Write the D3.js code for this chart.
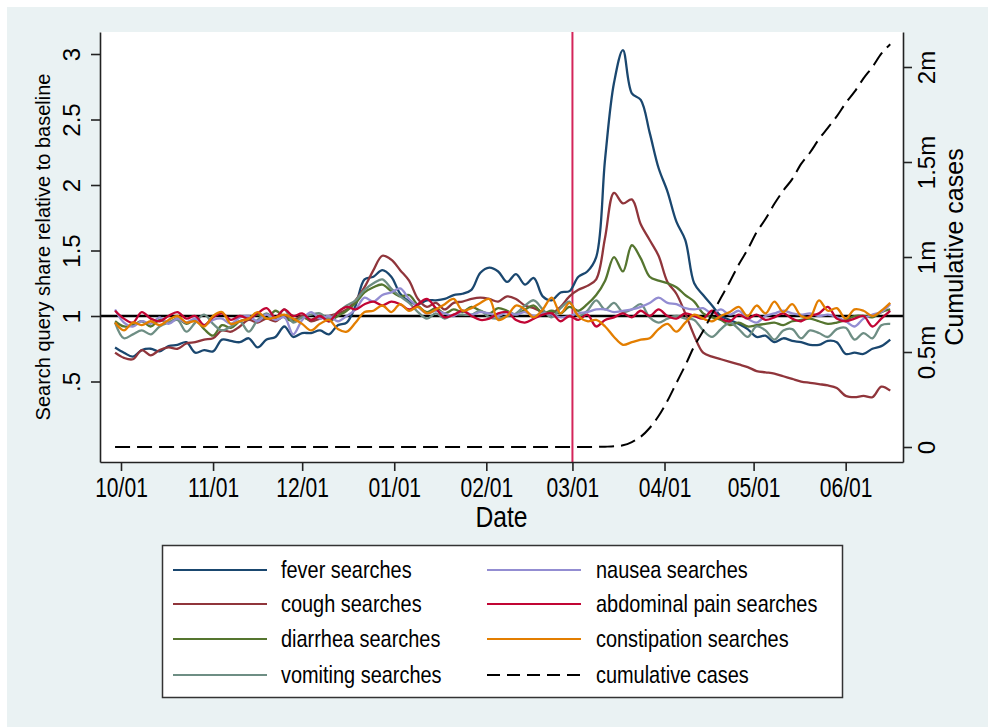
<!DOCTYPE html>
<html><head><meta charset="utf-8">
<script src="https://cdn.jsdelivr.net/npm/d3@7"></script>
<style>
body{margin:0;background:#fff;}
svg{display:block;font-family:"Liberation Sans",Arial,Helvetica,sans-serif;}
</style>
</head><body>
<svg id="c" width="988" height="727"></svg>
<script>
// ---------------- DATA (sampled every 3 days from 2019-09-29) ----------------
const startDate = "2019-09-29";
const stepDays = 3;

const fever = [0.76,0.72,0.69,0.74,0.75,0.73,0.77,0.78,0.80,0.72,0.74,0.73,0.82,0.81,0.80,0.83,0.76,0.82,0.84,0.92,
0.84,0.87,0.87,0.89,0.86,0.93,0.95,1.08,1.28,1.30,1.35,1.30,1.17,1.11,1.09,1.12,1.12,1.13,1.16,1.17,
1.20,1.33,1.37,1.34,1.26,1.32,1.24,1.29,1.15,1.12,1.18,1.19,1.30,1.34,1.45,2.20,2.78,3.03,2.70,2.65,
2.40,2.13,1.95,1.72,1.58,1.25,1.16,1.08,1.00,0.97,0.94,0.90,0.84,0.85,0.80,0.83,0.81,0.80,0.78,0.78,
0.81,0.80,0.71,0.72,0.71,0.75,0.77,0.82];

const cough = [0.72,0.68,0.67,0.74,0.70,0.74,0.76,0.75,0.79,0.80,0.82,0.83,0.89,0.88,0.92,0.97,0.95,0.98,0.96,1.00,
0.97,1.00,0.96,0.98,1.00,1.02,1.05,1.12,1.22,1.35,1.46,1.43,1.35,1.27,1.13,1.07,1.10,1.05,1.10,1.11,
1.13,1.14,1.13,1.11,1.15,1.13,1.08,1.06,1.03,1.02,1.07,1.15,1.20,1.23,1.28,1.60,1.94,1.86,1.89,1.70,
1.58,1.46,1.26,1.17,1.02,0.85,0.72,0.69,0.67,0.65,0.63,0.61,0.58,0.57,0.56,0.54,0.52,0.50,0.49,0.48,
0.47,0.45,0.39,0.38,0.39,0.38,0.46,0.43];

const diarrhea = [0.96,0.92,0.93,0.96,0.92,0.97,0.95,0.98,0.94,0.97,0.90,0.85,0.93,0.91,0.96,0.98,1.01,0.98,1.04,0.99,
0.96,0.99,0.97,1.00,0.96,1.00,1.04,1.10,1.18,1.22,1.24,1.19,1.15,1.16,1.08,1.03,1.06,1.02,1.05,1.03,
1.07,1.04,1.02,1.06,1.04,1.01,1.05,1.08,1.02,1.04,1.02,1.07,1.04,1.09,1.16,1.27,1.45,1.34,1.54,1.44,
1.30,1.27,1.25,1.22,1.16,1.11,1.02,0.99,0.97,0.93,0.95,0.92,0.93,0.94,0.95,0.93,0.96,0.97,0.98,0.96,
0.94,0.95,0.97,1.00,1.00,0.99,1.03,1.05];

const vomiting = [0.95,0.83,0.86,0.89,0.86,0.92,0.95,0.97,0.88,0.95,1.01,0.94,0.89,0.92,0.96,0.88,0.97,1.02,0.98,1.05,
0.95,0.99,1.01,1.02,0.98,1.03,1.08,1.12,1.20,1.25,1.28,1.21,1.15,1.10,1.03,0.98,1.02,0.98,1.01,1.01,
1.01,1.04,0.99,0.98,1.00,1.02,1.08,1.12,1.05,0.99,1.06,1.11,1.00,1.04,1.12,1.05,1.10,1.03,1.05,1.09,
0.99,0.95,0.98,1.00,0.98,0.97,0.89,0.84,0.90,0.95,0.90,0.84,0.92,0.89,0.82,0.89,0.90,0.83,0.89,0.87,
0.84,0.90,0.91,0.82,0.87,0.83,0.93,0.94];

const nausea = [1.05,0.95,0.92,0.96,0.94,0.99,0.94,0.98,0.95,0.98,0.93,0.97,0.98,0.94,0.99,1.00,0.96,1.01,0.97,0.99,
0.86,0.97,1.03,0.98,1.00,0.96,1.00,1.05,1.14,1.11,1.16,1.18,1.21,1.13,1.07,1.02,1.04,1.02,1.00,1.04,
1.01,1.03,1.02,1.00,1.03,1.01,1.03,1.00,1.02,1.01,0.99,1.00,1.02,1.03,1.05,1.05,1.03,1.04,1.05,1.07,
1.10,1.14,1.10,1.09,1.06,1.05,1.06,1.02,1.05,1.01,1.04,0.98,0.95,1.00,1.02,1.04,1.02,1.01,1.02,1.00,
1.01,0.99,0.96,0.92,0.98,1.01,1.03,1.09];

const abdominalPain = [1.04,0.98,0.95,1.03,0.98,0.96,1.00,1.03,0.98,1.00,0.93,0.99,1.02,0.97,1.00,0.98,1.02,1.06,0.99,1.05,
1.00,1.02,0.97,1.00,0.96,1.03,1.07,1.05,1.09,1.11,1.08,1.11,1.09,1.05,1.09,1.13,1.06,0.99,1.01,1.04,
1.00,0.97,0.98,1.02,1.03,0.97,0.95,0.98,1.01,1.02,0.96,1.00,0.97,1.01,0.92,0.97,0.99,1.02,0.99,1.04,
1.00,1.05,1.00,0.98,1.02,1.00,0.98,1.04,0.98,0.96,1.01,0.98,1.01,0.97,0.99,1.02,0.98,0.96,1.00,1.02,
1.07,0.98,0.96,0.98,1.00,0.92,0.98,1.04];

const constipation = [0.95,0.89,0.95,0.93,0.96,0.93,0.97,1.00,0.95,0.96,0.92,1.00,1.03,0.94,0.96,0.98,1.03,0.98,0.99,1.01,
0.98,0.94,0.89,0.94,0.97,0.90,0.88,0.95,1.03,1.04,1.08,1.03,1.09,1.04,1.07,1.02,1.05,1.09,1.13,1.04,
1.06,1.10,1.13,0.97,1.00,1.08,1.05,0.99,1.05,1.14,1.02,1.10,1.00,0.96,0.97,0.92,0.84,0.78,0.80,0.82,
0.83,0.90,0.94,0.88,0.95,1.01,0.98,0.96,1.00,1.03,1.07,1.00,1.08,1.02,1.11,1.03,1.09,1.00,0.99,1.12,
1.04,1.06,0.98,1.05,1.04,1.00,1.04,1.10];

// cumulative cases, millions
const cumulativeCases = [0,0,0,0,0,0,0,0,0,0,0,0,0,0,0,0,0,0,0,0,
0,0,0,0,0,0,0,0,0,0,0,0,0,0,0,0,0,0,0,0,
0,0,0,0,0,0,0,0,0,0,0,0,0.0001,0.0003,0.0006,0.0017,0.0035,0.009,0.026,0.054,
0.10,0.163,0.243,0.337,0.43,0.53,0.61,0.70,0.785,0.87,0.96,1.04,1.13,1.20,1.28,1.35,1.41,1.49,1.55,1.62,
1.68,1.74,1.81,1.87,1.94,2.00,2.07,2.12];

const seriesNames = ["fever searches","cough searches","diarrhea searches","vomiting searches",
  "nausea searches","abdominal pain searches","constipation searches"];
const seriesColors = ["#1a476f","#90353b","#55752f","#6e8e84","#938dd2","#c10534","#e37e00"];
const seriesValues = [fever,cough,diarrhea,vomiting,nausea,abdominalPain,constipation];
const casesName = "cumulative cases";

const xTickDates = ["2019-10-01","2019-11-01","2019-12-01","2020-01-01","2020-02-01","2020-03-01","2020-04-01","2020-05-01","2020-06-01"];
const xTickLabels = ["10/01","11/01","12/01","01/01","02/01","03/01","04/01","05/01","06/01"];
const leftTicks = [0.5,1,1.5,2,2.5,3];
const leftTickLabels = [".5","1","1.5","2","2.5","3"];
const rightTicks = [0,0.5,1,1.5,2];
const rightTickLabels = ["0","0.5m","1m","1.5m","2m"];
const markerDate = "2020-03-01";
const baselineValue = 1;

// ---------------- CHART ----------------
const svg = d3.select("#c");
const M = {l:100, r:903, t:32, b:462};
const DAY = 864e5;
const parse = s => new Date(s + "T00:00:00Z");
const t0 = parse("2019-10-01").getTime();

svg.append("rect").attr("x",7).attr("y",7).attr("width",981).attr("height",720).attr("fill","#eaf2f3");
svg.append("rect").attr("x",M.l).attr("y",M.t).attr("width",M.r-M.l).attr("height",M.b-M.t).attr("fill","#fff");

const x = d3.scaleUtc().domain([new Date(t0-7.07*DAY), new Date(t0+263.3*DAY)]).range([M.l,M.r]);
const yL = d3.scaleLinear().domain([-0.1145, 3.168]).range([M.b,M.t]);
const yR = d3.scaleLinear().domain([-0.0789, 2.1842]).range([M.b,M.t]);

const s0 = parse(startDate).getTime();
const dates = fever.map((_,i)=> new Date(s0 + i*stepDays*DAY));

// reference lines
svg.append("line").attr("x1",M.l).attr("x2",M.r).attr("y1",yL(baselineValue)).attr("y2",yL(baselineValue))
  .attr("stroke","#000").attr("stroke-width",2.4);
svg.append("line").attr("x1",x(parse(markerDate))).attr("x2",x(parse(markerDate))).attr("y1",M.t).attr("y2",M.b)
  .attr("stroke","#d4255a").attr("stroke-width",2);

const lineL = d3.line().x((d,i)=>x(dates[i])).y(d=>yL(d)).curve(d3.curveCatmullRom.alpha(0.5));
const lineR = d3.line().x((d,i)=>x(dates[i])).y(d=>yR(d)).curve(d3.curveMonotoneX);

seriesValues.forEach((vals,k)=>{
  svg.append("path").attr("d",lineL(vals)).attr("fill","none")
    .attr("stroke",seriesColors[k]).attr("stroke-width",2.3).attr("stroke-linejoin","round");
});
svg.append("path").attr("d",lineR(cumulativeCases)).attr("fill","none")
  .attr("stroke","#000").attr("stroke-width",2).attr("stroke-dasharray","15,7");

// axes
function styleAxis(g){
  g.attr("font-size",null).attr("font-family",null);
  g.select(".domain").attr("stroke","#222").attr("stroke-width",1.6);
  g.selectAll(".tick line").attr("stroke","#222").attr("stroke-width",1.6);
  g.selectAll("text").attr("fill","#000");
}
const gL = svg.append("g").attr("transform",`translate(${M.l},0)`)
  .call(d3.axisLeft(yL).tickValues(leftTicks).tickFormat((d,i)=>leftTickLabels[i]).tickSize(9).tickSizeOuter(0));
styleAxis(gL);
gL.selectAll("text").attr("x",null).attr("dy",null).attr("text-anchor","middle")
  .attr("font-size",24).attr("transform","translate(-20,0) rotate(-90)");

const gR = svg.append("g").attr("transform",`translate(${M.r},0)`)
  .call(d3.axisRight(yR).tickValues(rightTicks).tickFormat((d,i)=>rightTickLabels[i]).tickSize(9).tickSizeOuter(0));
styleAxis(gR);
gR.selectAll("text").attr("x",null).attr("dy",null).attr("text-anchor","middle")
  .attr("font-size",24).attr("transform","translate(32,0) rotate(-90)");

const gB = svg.append("g").attr("transform",`translate(0,${M.b})`)
  .call(d3.axisBottom(x).tickValues(xTickDates.map(parse)).tickFormat((d,i)=>xTickLabels[i]).tickSize(9).tickSizeOuter(0));
styleAxis(gB);
gB.selectAll("text").attr("y",null).attr("dy",null).attr("text-anchor","middle")
  .attr("font-size",27).attr("transform","translate(0,35) scale(0.78,1)");

// titles
svg.append("text").attr("transform",`translate(${(M.l+M.r)/2},527) scale(0.85,1)`)
  .attr("text-anchor","middle").attr("font-size",29).text("Date");
svg.append("text").attr("transform",`translate(50,${(M.t+M.b)/2}) rotate(-90)`)
  .attr("text-anchor","middle").attr("font-size",20).text("Search query share relative to baseline");
svg.append("text").attr("transform",`translate(963,${(M.t+M.b)/2}) rotate(-90)`)
  .attr("text-anchor","middle").attr("font-size",25).text("Cumulative cases");

// legend
const lg = svg.append("g");
lg.append("rect").attr("x",162.5).attr("y",545.5).attr("width",680).attr("height",152)
  .attr("fill","#fff").attr("stroke","#333").attr("stroke-width",1.5);
const rowsY = [570,604,639,675];
const colX = [{l0:173,l1:267,t:281},{l0:487,l1:581,t:596}];
const legendItems = seriesNames.map((n,k)=>({name:n,color:seriesColors[k],dash:null}))
  .concat([{name:casesName,color:"#000",dash:"13,7"}]);
legendItems.forEach((it,k)=>{
  const c = colX[Math.floor(k/4)], y = rowsY[k%4];
  lg.append("line").attr("x1",c.l0).attr("x2",c.l1).attr("y1",y).attr("y2",y)
    .attr("stroke",it.color).attr("stroke-width",2.2).attr("stroke-dasharray",it.dash);
  lg.append("text").attr("transform",`translate(${c.t},${y+8}) scale(0.83,1)`)
    .attr("font-size",24).attr("fill","#000").text(it.name);
});
</script>
</body></html>
